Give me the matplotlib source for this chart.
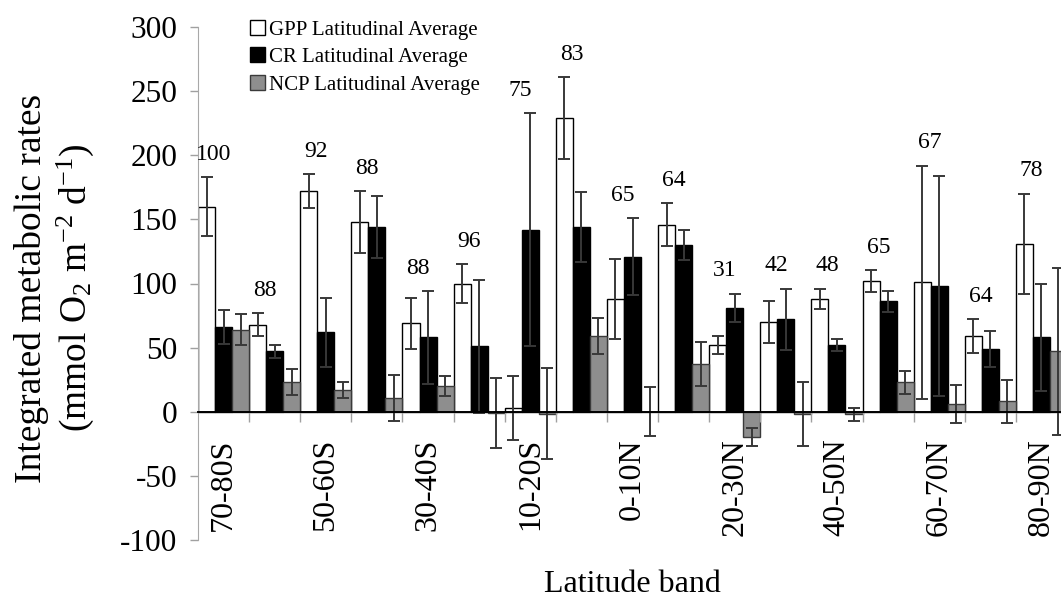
import matplotlib
matplotlib.use('Agg')
import matplotlib.pyplot as plt
import numpy as np
from matplotlib.ticker import FixedLocator, NullFormatter

plt.rcParams['font.family'] = ['Liberation Serif', 'DejaVu Serif']
plt.rcParams['mathtext.fontset'] = 'custom'
plt.rcParams['mathtext.rm'] = 'Liberation Serif'
plt.rcParams['mathtext.it'] = 'Liberation Serif:italic'
plt.rcParams['mathtext.default'] = 'regular'
plt.rcParams['axes.unicode_minus'] = False

# latitude bands, south to north
bands = ['70-80S', '60-70S', '50-60S', '40-50S', '30-40S', '20-30S', '10-20S', '0-10S',
         '0-10N', '10-20N', '20-30N', '30-40N', '40-50N', '50-60N', '60-70N', '70-80N', '80-90N']

gpp = [160, 68, 172, 148, 69, 100, 3, 229, 88, 146, 52, 70, 88, 102, 101, 59, 131]
gpp_err = [23, 9, 13, 24, 20, 15, 25, 32, 31, 16.5, 7, 16.5, 8, 8.5, 91, 13, 39]
cr = [66, 47, 62, 144, 58, 51, 142, 144, 121, 130, 81, 72, 52, 86, 98, 49, 58]
cr_err = [13, 5, 27, 24, 36, 52, 91, 27, 30, 12, 11, 24, 4.5, 8, 86, 14, 42]
ncp = [64, 23, 17, 11, 20, -1, -1.5, 59, 0, 37, -20, -2, -2, 23, 6, 8, 47]
ncp_err = [12, 10, 6, 18, 8, 27.5, 35.5, 14, 19, 17, 7, 25, 5, 9, 15, 17, 65]
counts = [100, 88, 92, 88, 88, 96, 75, 83, 65, 64, 31, 42, 48, 65, 67, 64, 78]

W, H = 1061, 603
fig = plt.figure(figsize=(W / 100, H / 100), dpi=100)
# axes runs a bit past the right edge of the picture (last bar is cut)
ax = fig.add_axes([198 / W, (H - 540) / H, 869 / W, 513 / H])

x = np.arange(len(bands))
bw = 1 / 3
err_kw = dict(ecolor='#383838', elinewidth=1.4, capsize=4.2, capthick=1.4)

b1 = ax.bar(x - bw, gpp, bw, yerr=gpp_err, color='white', edgecolor='black',
            linewidth=1.0, error_kw=err_kw, label='GPP Latitudinal Average')
b2 = ax.bar(x, cr, bw, yerr=cr_err, color='black', edgecolor='black',
            linewidth=1.0, error_kw=err_kw, label='CR Latitudinal Average')
b3 = ax.bar(x + bw, ncp, bw, yerr=ncp_err, color='#8e8e8e', edgecolor='#3a3a3a',
            linewidth=1.0, error_kw=err_kw, label='NCP Latitudinal Average')

# number labels above each band
tops = np.max([np.array(gpp) + gpp_err, np.array(cr) + cr_err, np.array(ncp) + ncp_err], axis=0)
for i, n in enumerate(counts):
    ax.annotate(str(n), xy=(i - 0.5 + 0.31, tops[i]), xytext=(0, 16.5),
                textcoords='offset points', ha='center', va='center', fontsize=17)

ax.set_ylim(-100, 300)
ax.set_xlim(-0.5, len(bands) - 0.5)
ax.set_yticks(np.arange(-100, 301, 50))
ax.tick_params(axis='y', labelsize=22.5, color='#a0a0a0', length=6, width=1, pad=9)

for s in ['top', 'right']:
    ax.spines[s].set_visible(False)
ax.spines['left'].set_color('#a8a8a8')
ax.spines['bottom'].set_position(('data', 0))
ax.spines['bottom'].set_color('black')
ax.spines['bottom'].set_linewidth(1.4)

ax.set_xticks(x[::2])
ax.set_xticklabels(bands[::2], rotation=90, fontsize=23)
ax.xaxis.set_minor_locator(FixedLocator(np.arange(0.5, len(bands) - 0.5, 1)))
ax.xaxis.set_minor_formatter(NullFormatter())
ax.tick_params(axis='x', which='major', length=0, pad=19)
ax.tick_params(axis='x', which='minor', length=7, color='#a0a0a0', width=1, direction='out')

ax.legend(handles=[b1, b2, b3], loc='upper left', bbox_to_anchor=(250 / W, 1 - 20 / H),
          bbox_transform=fig.transFigure, frameon=False, fontsize=15,
          handlelength=0.7, handleheight=0.7, handletextpad=0.2, labelspacing=0.38,
          borderpad=0, borderaxespad=0)

fig.text(55 / W, 1 - 288 / H,
         'Integrated metabolic rates\n(mmol O$_2$ m$^{-2}$ d$^{-1}$)',
         rotation=90, ha='center', va='center', multialignment='center',
         fontsize=27, linespacing=1.2)
fig.text(632 / W, 18 / H, 'Latitude band', ha='center', va='center', fontsize=23)

fig.savefig('out.png', dpi=100)
